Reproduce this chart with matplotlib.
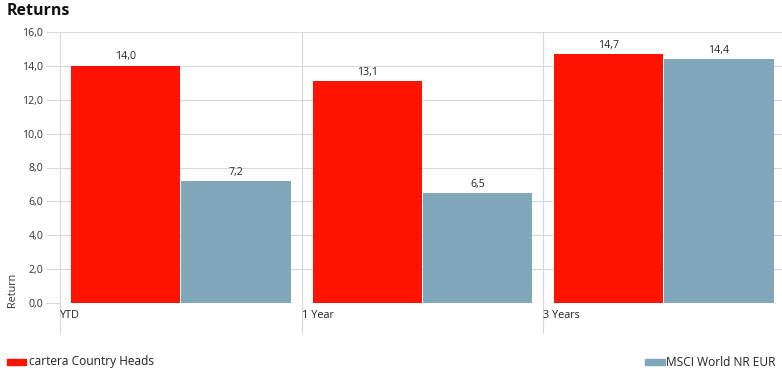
import matplotlib
matplotlib.use("Agg")
import matplotlib.pyplot as plt
import numpy as np

plt.rcParams['font.family'] = ['Open Sans', 'DejaVu Sans']

categories = ["YTD", "1 Year", "3 Years"]
series_names = ["cartera Country Heads", "MSCI World NR EUR"]
portfolio = [14.0, 13.1, 14.7]
benchmark = [7.2, 6.5, 14.4]
yticks = [0, 2, 4, 6, 8, 10, 12, 14, 16]
colors = ["#FF1200", "#80A8BA"]

W, H = 782, 380
fig = plt.figure(figsize=(W / 100, H / 100), dpi=100)
ax = fig.add_axes([60 / W, 1 - 303 / H, (782 - 60) / W, (303 - 32) / H])

x = np.arange(len(categories))
bw = 0.452
ax.bar(x - 0.2275, portfolio, width=bw, color=colors[0], zorder=3)
ax.bar(x + 0.2285, benchmark, width=bw, color=colors[1], zorder=3)

def fmt(v):
    return f"{v:.1f}".replace(".", ",")

for xi, v in zip(x - 0.2275, portfolio):
    ax.text(xi, v + 0.2, fmt(v), ha="center", va="bottom", fontsize=7.6, color="#222222")
for xi, v in zip(x + 0.2285, benchmark):
    ax.text(xi, v + 0.2, fmt(v), ha="center", va="bottom", fontsize=7.6, color="#222222")

ax.set_ylim(0, 16)
ax.set_xlim(-0.5, -0.5 + (782 - 60) / 241.5)
ax.set_yticks(yticks)
ax.set_yticklabels([fmt(v) for v in yticks], fontsize=7.6, color="#333333")
ax.tick_params(axis="y", length=10, color="#d8d8d8", pad=2)
ax.set_xticks([])
ax.grid(axis="y", color="#d8d8d8", linewidth=0.8, zorder=0)
for s in ax.spines.values():
    s.set_visible(False)

for i, c in enumerate(categories):
    ax.axvline(i - 0.5, ymin=-0.11, ymax=1, color="#d8d8d8", linewidth=0.8, clip_on=False, zorder=1)
    ax.text(i - 0.5 + 0.001, -0.047, c, transform=ax.get_xaxis_transform(), ha="left", va="center",
            fontsize=7.8, color="#222222")

fig.text(12 / W, 1 - 290 / H, "Return", rotation=90, ha="center", va="center", fontsize=7.8, color="#333333")
fig.text(7 / W, 1 - 11 / H, "Returns", ha="left", va="center", fontsize=11.5, fontweight="bold", color="#111111")

# legend
fig.patches.append(plt.Rectangle((7 / W, 1 - 365 / H), 19 / W, 6 / H, transform=fig.transFigure,
                                 color=colors[0], figure=fig))
fig.text(29 / W, 1 - 362 / H, series_names[0], ha="left", va="center", fontsize=8.6, color="#222222")
fig.patches.append(plt.Rectangle((645 / W, 1 - 365 / H), 20 / W, 6 / H, transform=fig.transFigure,
                                 color=colors[1], figure=fig))
fig.text(666 / W, 1 - 362 / H, series_names[1], ha="left", va="center", fontsize=8.6, color="#222222")

fig.savefig("out.png", dpi=100)
